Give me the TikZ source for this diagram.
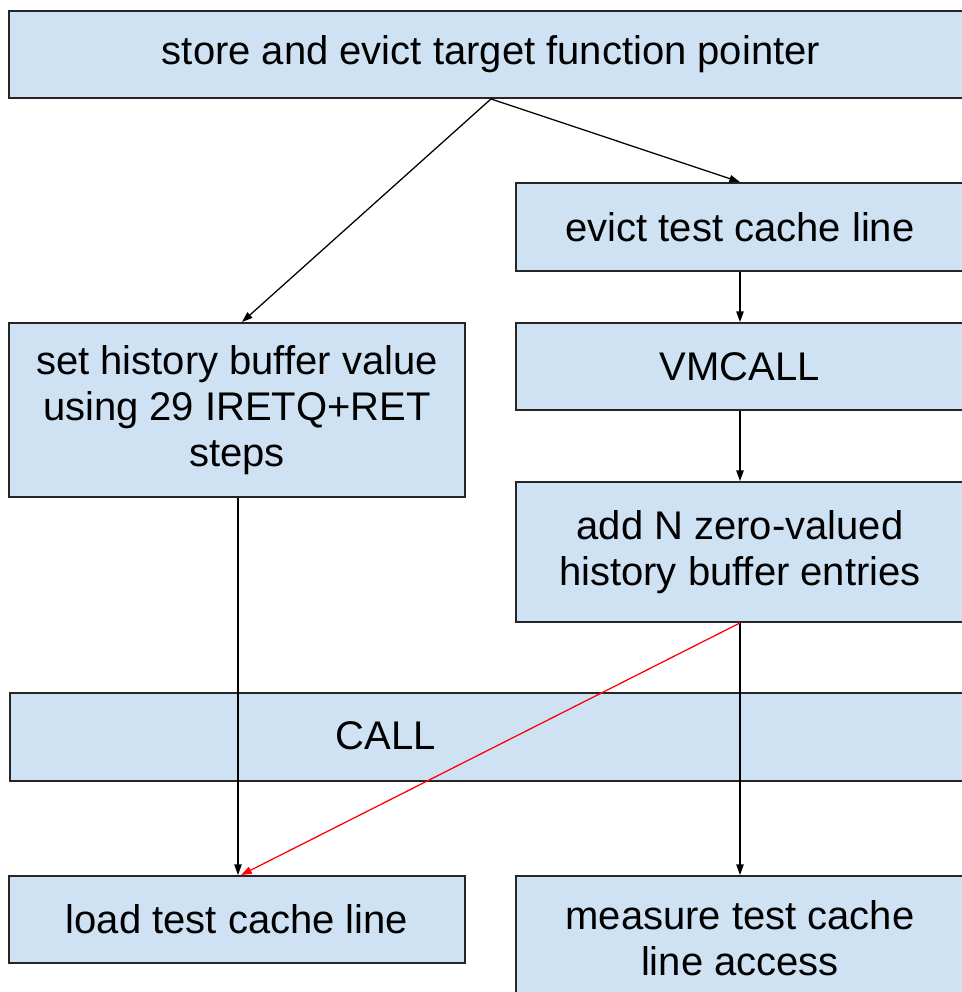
\documentclass[tikz,border=0pt]{standalone}
\usepackage{fontspec}
\setmainfont{Liberation Sans}
\usetikzlibrary{arrows.meta}
\definecolor{boxblue}{HTML}{CFE2F3}
\begin{document}
\begin{tikzpicture}[x=0.75pt,y=-0.75pt,
  box/.style={draw=black!85, line width=1.4pt, fill=boxblue, rectangle, inner sep=0pt,
    font=\fontsize{30}{34.5}\selectfont, align=center},
  lbl/.style={inner sep=0pt, font=\fontsize{30}{34.5}\selectfont},
  conn/.style={-{Triangle[length=8pt,width=5.5pt]}, line width=0.95pt, draw=black},
  redconn/.style={-{Triangle[length=8pt,width=5.5pt]}, line width=0.95pt, draw=red}]
\useasboundingbox (0,0) rectangle (962,992);
\clip (0,0) rectangle (962,992);
\node[box, minimum width=723pt, minimum height=65.25pt] (top) at (491,54.5) {store and evict target function pointer};
\node[box, minimum width=336pt, minimum height=66pt] (evict) at (740,227) {evict test cache line};
\node[box, minimum width=342pt, minimum height=130.5pt] (hist) at (237,410) {set history buffer value\\using 29 IRETQ+RET\\steps};
\node[box, minimum width=336pt, minimum height=65.25pt] (vmcall) at (740,366.5) {VMCALL};
\node[box, minimum width=336pt, minimum height=105pt] (addn) at (740,552) {add N zero-valued\\history buffer entries};
\node[box, minimum width=724.5pt, minimum height=66pt, anchor=north west] (call) at (9,692) {};
\node[lbl] (calltext) at (386,736) {CALL};
\node[box, minimum width=342pt, minimum height=65.25pt] (load) at (237,919.5) {load test cache line};
\node[box, minimum width=336pt, minimum height=93pt] (measure) at (740,938) {measure test cache\\line access};
\draw[conn] (top.south) -- (evict.north);
\draw[conn] (top.south) -- ([xshift=3.75pt]hist.north);
\draw[conn] (evict.south) -- (vmcall.north);
\draw[conn] (vmcall.south) -- (addn.north);
\draw[conn] ([xshift=0.75pt]hist.south) -- ([xshift=0.75pt]load.north);
\draw[conn] (addn.south) -- (measure.north);
\draw[redconn] (addn.south) -- ([xshift=3pt]load.north);
\end{tikzpicture}
\end{document}
